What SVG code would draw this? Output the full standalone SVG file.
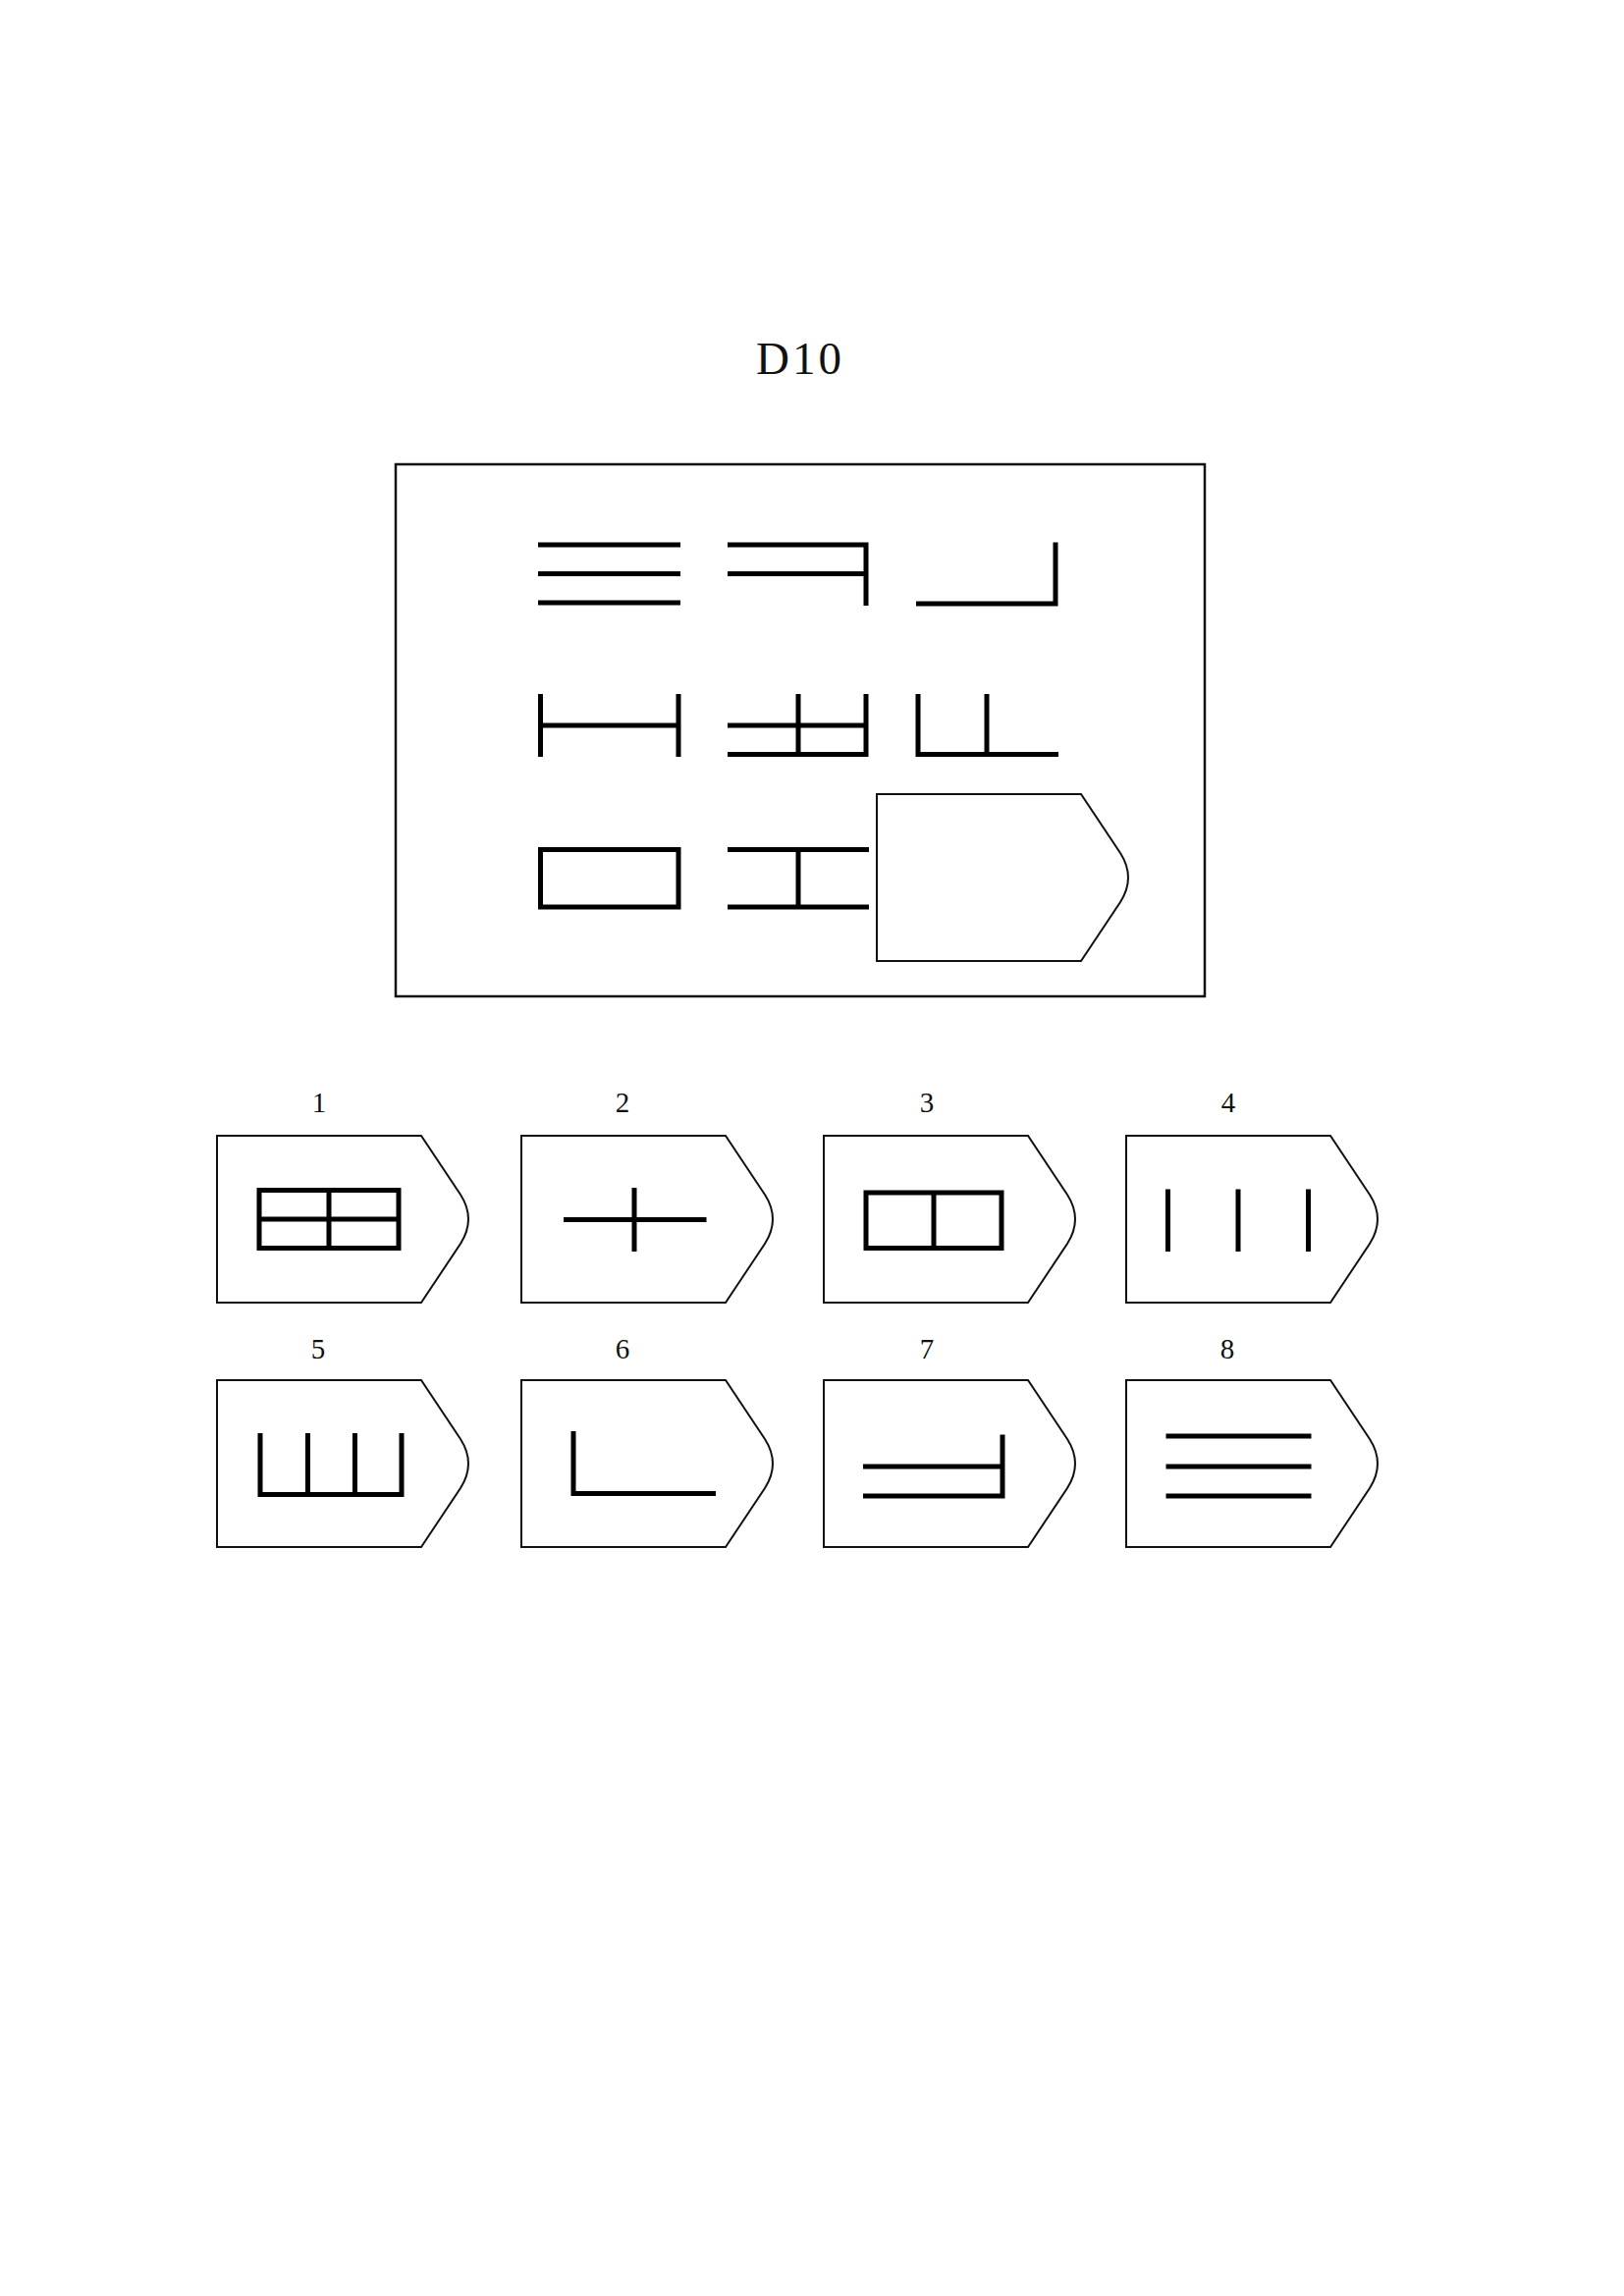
<svg xmlns="http://www.w3.org/2000/svg" xmlns:xlink="http://www.w3.org/1999/xlink" width="1654" height="2339" viewBox="0 0 1654 2339">
<style>
.fig{fill:none;stroke:#000;stroke-width:5;stroke-linecap:butt;stroke-linejoin:miter}
.tab{fill:#fff;stroke:#111;stroke-width:2}
.frame{fill:none;stroke:#111;stroke-width:2.5}
.lbl{font-family:"Liberation Serif",serif;font-size:29px;text-anchor:middle;fill:#111}
.title{font-family:"Liberation Serif",serif;font-size:47px;letter-spacing:3px;text-anchor:middle;fill:#111}
</style>
<defs>
<path id="tabshape" d="M0,0 H208 L248,60 Q264,85 248,110 L208,170 H0 Z"/>
</defs>
<rect width="1654" height="2339" fill="#fff"/>
<text class="title" x="815" y="381">D10</text>
<g id="matrix">
<rect class="frame" x="403" y="473" width="824" height="542"/>
<g id="cell-1-1"><path class="fig" d="M548,555 H693 M548,584.5 H693 M548,614 H693"/></g>
<g id="cell-1-2"><path class="fig" d="M741,555 H882 V617 M741,584.5 H882"/></g>
<g id="cell-1-3"><path class="fig" d="M1075,552.5 V615 H933"/></g>
<g id="cell-2-1"><path class="fig" d="M550.5,707 V771 M691,707 V771 M550.5,739 H691"/></g>
<g id="cell-2-2"><path class="fig" d="M741,739 H882 M741,768.5 H882 V707 M813,707 V768.5"/></g>
<g id="cell-2-3"><path class="fig" d="M935,707 V768.5 H1078 M1005,707 V768.5"/></g>
<g id="cell-3-1"><rect class="fig" x="550.5" y="865.5" width="140.5" height="58.5"/></g>
<g id="cell-3-2"><path class="fig" d="M741,865.5 H885 M741,924 H885 M813,865.5 V924"/></g>
<g id="cell-3-3"><use href="#tabshape" class="tab" x="893" y="809"/></g>
</g>
<g id="connectors"/>
<g id="option-1">
<text class="lbl" x="325" y="1133">1</text>
<use href="#tabshape" class="tab" x="221" y="1157"/>
<rect class="fig" x="264" y="1212.5" width="142" height="59"/>
<path class="fig" d="M264,1242 H406 M335,1212.5 V1271.5"/>
</g>
<g id="option-2">
<text class="lbl" x="634" y="1133">2</text>
<use href="#tabshape" class="tab" x="531" y="1157"/>
<path class="fig" d="M574,1242.5 H719.5 M646,1210 V1275"/>
</g>
<g id="option-3">
<text class="lbl" x="944" y="1133">3</text>
<use href="#tabshape" class="tab" x="839" y="1157"/>
<rect class="fig" x="882" y="1215" width="138" height="56.5"/>
<path class="fig" d="M951,1215 V1271.5"/>
</g>
<g id="option-4">
<text class="lbl" x="1251" y="1133">4</text>
<use href="#tabshape" class="tab" x="1147" y="1157"/>
<path class="fig" d="M1189.5,1211.5 V1275 M1261,1211.5 V1275 M1332.5,1211.5 V1275"/>
</g>
<g id="option-5">
<text class="lbl" x="324" y="1384">5</text>
<use href="#tabshape" class="tab" x="221" y="1406"/>
<path class="fig" d="M265,1460 V1522.5 H409 V1460 M313.5,1460 V1522.5 M361.5,1460 V1522.5"/>
</g>
<g id="option-6">
<text class="lbl" x="634" y="1384">6</text>
<use href="#tabshape" class="tab" x="531" y="1406"/>
<path class="fig" d="M584,1458 V1521.5 H729"/>
</g>
<g id="option-7">
<text class="lbl" x="944" y="1384">7</text>
<use href="#tabshape" class="tab" x="839" y="1406"/>
<path class="fig" d="M879,1494 H1021 M879,1524 H1021 V1461.5"/>
</g>
<g id="option-8">
<text class="lbl" x="1250" y="1384">8</text>
<use href="#tabshape" class="tab" x="1147" y="1406"/>
<path class="fig" d="M1187.5,1463 H1335.5 M1187.5,1494 H1335.5 M1187.5,1524 H1335.5"/>
</g>
</svg>
